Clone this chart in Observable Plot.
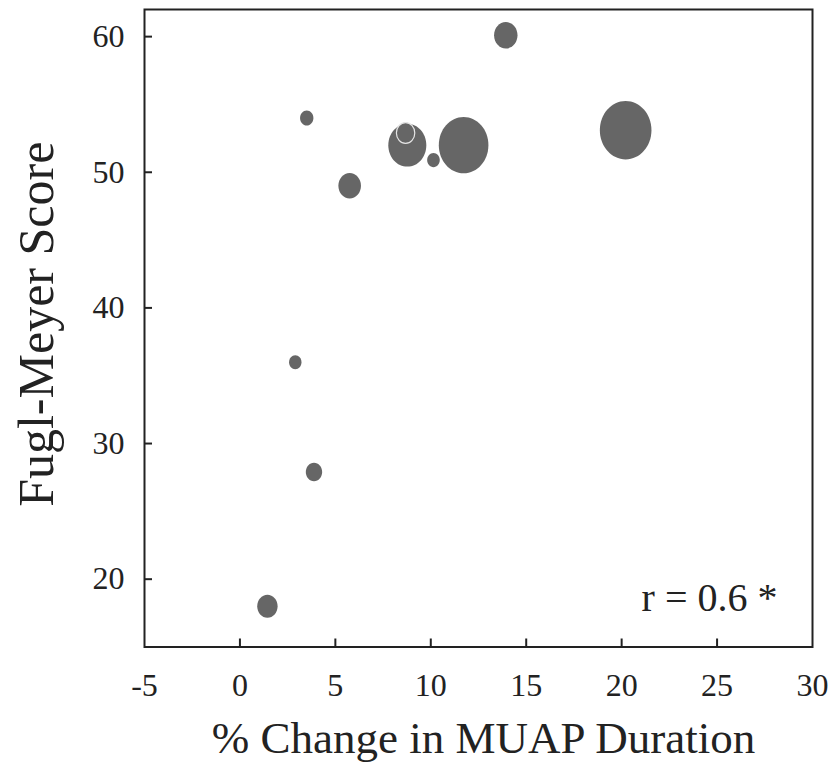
<!DOCTYPE html>
<html>
<head>
<meta charset="utf-8">
<script src="https://cdn.jsdelivr.net/npm/d3@7"></script>
<script src="https://cdn.jsdelivr.net/npm/@observablehq/plot@0.6"></script>
<style>
  html, body { margin: 0; padding: 0; background: #fff; }
  #chart svg { display: block; }
</style>
</head>
<body>
<div id="chart"></div>
<script>
// Data
const muapChange = [1.44, 3.88, 2.90, 3.50, 5.75, 8.77, 8.68, 10.14, 11.72, 13.93, 20.21];
const fuglMeyer  = [18.0, 27.9, 36.0, 54.0, 49.0, 52.0, 52.9, 50.9, 52.0, 60.1, 53.1];
const bubbleSize = [15.4, 9.9, 5.7, 6.6, 18.9, 53.4, 12.5, 5.9, 91, 20.3, 98.5];
const highlighted = [false, false, false, false, false, false, true, false, false, false, false];
const xTicks = [-5, 0, 5, 10, 15, 20, 25, 30];
const yTicks = [20, 30, 40, 50, 60];
const xTitle = "% Change in MUAP Duration";
const yTitle = "Fugl-Meyer Score";
const note = "r = 0.6 *";

const data = muapChange.map((x, i) => ({x, y: fuglMeyer[i], s: bubbleSize[i], hi: highlighted[i]}));

const W = 837, H = 773;
const mL = 144, mR = 25, mT = 9, mB = 126.5;
const plotW = W - mL - mR, plotH = H - mT - mB;

// slightly tall ellipse symbol, as in the reference
const ellipse = {
  draw(ctx, size) {
    const r = Math.sqrt(size / Math.PI);
    const rx = r, ry = r * 1.13, k = 0.5523;
    ctx.moveTo(rx, 0);
    ctx.bezierCurveTo(rx, ry * k, rx * k, ry, 0, ry);
    ctx.bezierCurveTo(-rx * k, ry, -rx, ry * k, -rx, 0);
    ctx.bezierCurveTo(-rx, -ry * k, -rx * k, -ry, 0, -ry);
    ctx.bezierCurveTo(rx * k, -ry, rx, -ry * k, rx, 0);
    ctx.closePath();
  }
};

const font = "'Liberation Serif', 'DejaVu Serif', serif";
const ink = "#222";

const chart = Plot.plot({
  width: W, height: H,
  marginLeft: mL, marginRight: mR, marginTop: mT, marginBottom: mB,
  style: {fontFamily: font, color: ink, background: "#fff"},
  x: {domain: [-5, 30]},
  y: {domain: [15, 62]},
  r: {type: "sqrt", domain: [0, 100], range: [0, 26]},
  marks: [
    Plot.dot(data, {x: "x", y: "y", r: "s", symbol: ellipse, fill: "#666666",
      stroke: d => d.hi ? "#e6e6e6" : "none", strokeWidth: 1.2}),
    Plot.frame({stroke: ink, strokeWidth: 2}),
    Plot.tickY(yTicks, {y: d => d, insetRight: plotW - 8, stroke: ink, strokeWidth: 2}),
    Plot.tickX(xTicks.filter(d => d > -5 && d < 30), {x: d => d, insetTop: plotH - 8, stroke: ink, strokeWidth: 2}),
    Plot.axisX({ticks: xTicks, tickSize: 0, tickPadding: 26, fontSize: 32, tickFormat: d => String(d), label: null}),
    Plot.axisY({ticks: yTicks, tickSize: 0, tickPadding: 20, fontSize: 32, tickFormat: d => String(d), label: null}),
    Plot.text([xTitle], {frameAnchor: "bottom", dy: 106, dx: 5, fontSize: 45, fill: ink, textAnchor: "middle", text: d => d}),
    Plot.text([yTitle], {frameAnchor: "left", dx: -108, dy: -4, rotate: -90, fontSize: 50, fill: ink, textAnchor: "middle", text: d => d}),
    Plot.text([note], {frameAnchor: "bottom-right", dx: -35, dy: -36, fontSize: 40, fill: ink, textAnchor: "end", text: d => d})
  ]
});

document.getElementById("chart").appendChild(chart);
</script>
</body>
</html>
